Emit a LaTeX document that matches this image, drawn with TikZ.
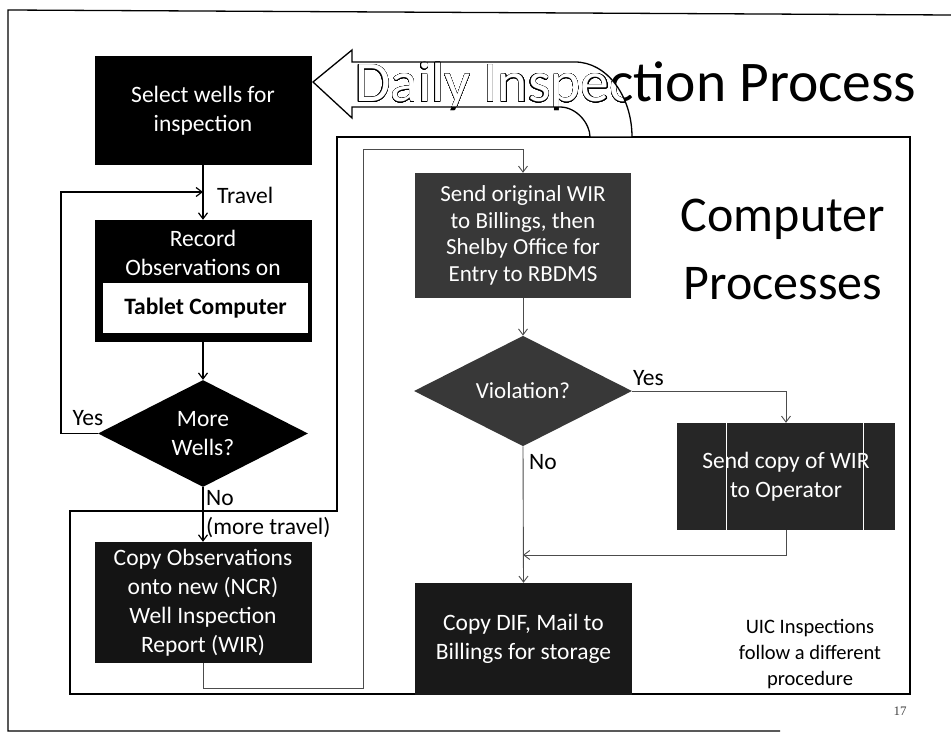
\documentclass[tikz,border=0pt]{standalone}
\usepackage{fontspec}
\setmainfont{Carlito}
\newfontfamily\pagenumfont{Liberation Serif}
\usepackage{contour}
\contourlength{0.35pt}
\contournumber{24}
\usetikzlibrary{arrows.meta,shapes.geometric}

% outline of the big hollow return arrow
\def\returnarrow{(313,82) -- (352,50) -- (352,62) -- (575,62)
  .. controls (606.5,62) and (632,95.6) .. (632,137) -- (590,137)
  .. controls (590,123.6) and (576.6,107) .. (560,107) -- (352,107)
  -- (352,118) -- cycle}

\begin{document}
\begin{tikzpicture}[x=1pt,y=-1pt,
  body/.style={font=\fontsize{23.5}{29}\selectfont},
  blk/.style={body, fill=black, text=white, inner sep=0pt, align=center},
  gbox/.style={blk, fill=black!78},
  dia/.style={diamond, inner sep=0pt, text=white, align=center, body},
  lbl/.style={body, inner sep=0pt},
  arr/.style={-{Straight Barb[length=6pt,width=9pt]}, line width=1.2pt},
  garr/.style={-{Straight Barb[length=6pt,width=9pt]}, line width=0.9pt, draw=black!70},
  frame/.style={line width=1.4pt}]
\useasboundingbox (0,0) rectangle (951,738);

% slide border
\draw[line width=1.3pt] (951,15) -- (8,10) -- (8,731) -- (780,731);

% title
\node[anchor=base west, inner sep=0pt, font=\fontsize{57.5}{60}\selectfont] (title) at (355,102) {Daily Inspection Process};

% region of computer processes
\draw[frame] (337,137) -- (910,137) -- (910,694) -- (70,694) -- (70,511) -- (337,511) -- cycle;

% hollow arrow back to the start, with the title showing through it
\fill[white] \returnarrow;
\begin{scope}
  \clip \returnarrow;
  \node[anchor=base west, inner sep=0pt, font=\fontsize{57.5}{60}\selectfont] (titlehollow) at (355,102) {\color{white}\contour{black}{Daily Inspection Process}};
\end{scope}
\draw[line width=1.3pt, line join=miter] \returnarrow;

% field column
\node[blk, minimum width=217pt, minimum height=109pt] (sel) at (203,110.5) {Select wells for\\inspection};
\node[blk, minimum width=217pt, minimum height=122pt] (rec) at (203,281) {};
\node[lbl, text=white, align=center] (rectext) at (203,252.5) {Record\\Observations on};
\node[fill=white, minimum width=205pt, minimum height=50pt, inner sep=0pt, body, font=\fontsize{23.5}{29}\selectfont\bfseries] (tab) at (205.5,308) {Tablet Computer};
\node[dia, fill=black, minimum width=210pt, minimum height=103pt] (mw) at (203,433.5) {More\\Wells?};
\node[blk, fill=black!92, minimum width=217pt, minimum height=121pt] (cobs) at (203,602.5) {Copy Observations\\onto new (NCR)\\Well Inspection\\Report (WIR)};

\coordinate (tj) at (203,192);
\draw[arr] (sel) -- (rec);
\draw[arr] (mw.west) -- (61,433.5) |- (tj);
\draw[arr] (rec) -- (mw);
\draw[arr] (mw) -- (cobs);

\node[lbl, anchor=west] (travel) at (217,195) {Travel};
\node[lbl, anchor=center] (yes1) at (88,418) {Yes};
\node[lbl, anchor=west] (no1) at (206,498) {No};
\node[lbl, anchor=west] (more) at (206,528) {(more travel)};

% office column
\node[gbox, minimum width=216pt, minimum height=125pt, font=\fontsize{23}{26.5}\selectfont] (so) at (523,235.5) {Send original WIR\\to Billings, then\\Shelby Office for\\Entry to RBDMS};
\node[dia, fill=black!78, minimum width=218pt, minimum height=108pt, font=\fontsize{23}{26.5}\selectfont] (vio) at (523,391) {Violation?};
\node[gbox, fill=black!85, minimum width=218pt, minimum height=107pt] (sc) at (786,476.5) {Send copy of WIR\\to Operator};
\draw[white, line width=0.6pt] (726,423) -- (726,530) (863,423) -- (863,530);
\node[blk, fill=black!90, minimum width=217pt, minimum height=112pt] (cd) at (523.5,639) {Copy DIF, Mail to\\Billings for storage};

\coordinate (d1) at (363,688);
\coordinate (d2) at (363,149);
\coordinate (mrg) at (523,555);
\draw[garr] (cobs.south) |- (d1) -- (d2) -| (so.north);
\draw[garr] (so) -- (vio);
\draw[garr] (vio.east) -| (sc.north);
\draw[garr] (sc.south) |- (mrg);
\draw[garr] (vio.south) -- (cd.north);

\node[lbl, anchor=west] (yes2) at (633,378) {Yes};
\node[lbl, anchor=west] (no2) at (529,462) {No};

\node[anchor=base, inner sep=0pt, font=\fontsize{50}{60}\selectfont] (cp1) at (783,232) {Computer};
\node[anchor=base, inner sep=0pt, font=\fontsize{50}{60}\selectfont] (cp2) at (783,299) {Processes};

\node[align=center, inner sep=0pt, font=\fontsize{20.5}{26}\selectfont] (uic) at (810,654) {UIC Inspections\\follow a different\\procedure};

\node[inner sep=0pt, text=black!75, font=\pagenumfont\fontsize{13}{13}\selectfont] (pg) at (900,711) {17};
\end{tikzpicture}
\end{document}
